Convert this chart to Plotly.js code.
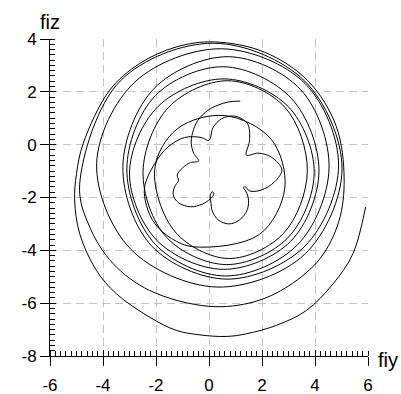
<!DOCTYPE html>
<html>
<head>
<meta charset="utf-8">
<script src="https://cdn.plot.ly/plotly-3.0.1.min.js"></script>
<style>html,body{margin:0;padding:0;background:#fff;}#chart{width:401px;height:394px;}</style>
</head>
<body>
<div id="chart"></div>
<script>
// inner five-lobed part (start of the trajectory)
var flowerFiy = [1.18,0.75,0.35,-0.04,-0.42,-0.62,-0.67,-0.57,-0.39,
  -0.7,-1.0,-1.2,-1.15,-1.3,-1.35,-1.15,-0.7,-0.25,0.05,
  0.18,0.13,0.05,0.07,
  0.12,0.35,0.75,1.15,1.45,1.48,1.38,1.3,1.38,1.53,
  1.97,2.47,2.75,2.35,1.85,1.41,
  1.53,1.45,0.97,0.47,0.15,0.0];
var flowerFiz = [1.65,1.62,1.5,1.3,0.92,0.45,0.04,-0.34,-0.62,
  -0.68,-0.88,-1.15,-1.35,-1.6,-1.9,-2.2,-2.35,-2.25,-2.05,
  -1.87,-1.78,-1.9,-2.15,
  -2.5,-2.85,-3.0,-2.85,-2.45,-2.0,-1.75,-1.62,-1.6,-1.75,
  -1.72,-1.41,-0.95,-0.47,-0.32,-0.4,
  0.16,0.8,1.08,0.98,0.64,0.16];
// first wide loop
var loop1Fiy = [-0.29,-0.92,-1.55,-2.05,-2.43,-2.36,-2.05,-1.42,-0.54,1.9,2.86,2.35,0.6,-1.2];
var loop1Fiz = [0.27,0.27,-0.09,-0.72,-1.6,-2.3,-2.98,-3.55,-3.87,-3.4,-1.65,0.2,1.1,0.6];
// middle loops (2 to 7)
var midFiy = [-2.05,-1.27,0.74,2.81,3.71,2.86,0.71,-1.52,
  -2.49,-1.61,0.65,2.97,3.97,2.99,0.57,-1.92,
  -3.0,-1.97,0.54,3.08,4.15,3.11,0.56,-2.02,
  -3.1,-2.03,0.62,3.34,4.53,3.46,0.73,-2.06,
  -3.25,-2.17,0.68,3.62,4.89,3.62,0.47,-2.79,
  -4.24,-2.96,0.3,3.61,5.02,3.61,0.17,-3.35];
var midFiz = [-0.94,-3.31,-4.31,-3.36,-0.99,1.42,2.42,1.42,
  -1.03,-3.5,-4.54,-3.53,-1.05,1.44,2.49,1.45,
  -1.07,-3.62,-4.72,-3.66,-1.0,1.75,2.95,1.86,
  -0.92,-3.77,-4.97,-3.79,-0.88,2.08,3.33,2.14,
  -0.83,-3.83,-5.09,-3.84,-0.78,2.32,3.63,2.38,
  -0.72,-3.95,-5.39,-4.15,-0.92,2.41,3.84,2.41];
// last two loops, ending at the right
var outerFiy = [-4.88,-4.5,-3.62,-2.24,0.0,1.7,3.0,4.2,4.9,5.1,4.8,3.75,2.1,0.2,-1.23,-2.62,-3.75,-4.75,
  -5.0,-5.07,-4.88,-4.25,-3.5,-2.24,-1.23,-0.35,0.65,1.41,2.54,3.67,4.68,5.43,5.91];
var outerFiz = [-1.5,-3.12,-4.5,-5.52,-6.12,-5.95,-5.35,-4.3,-2.9,-1.3,0.7,2.4,3.5,3.89,3.7,3.07,2.06,0.04,
  -1.1,-2.1,-3.37,-4.76,-5.64,-6.53,-7.03,-7.2,-7.26,-7.16,-6.84,-6.28,-5.27,-4.13,-2.36];
var xTicks = [-6,-4,-2,0,2,4,6];
var yTicks = [-8,-6,-4,-2,0,2,4];

var fiy = flowerFiy.concat(loop1Fiy, midFiy, outerFiy);
var fiz = flowerFiz.concat(loop1Fiz, midFiz, outerFiz);

var font = 'Liberation Sans, Arial, sans-serif';
var data = [
  {x: fiy, y: fiz, type: 'scatter', mode: 'lines', line: {color: '#000', width: 1, shape: 'spline', smoothing: 1}, hoverinfo: 'skip'},
  {x: [0], y: [0], xaxis: 'x2', yaxis: 'y2', mode: 'markers', marker: {opacity: 0}, hoverinfo: 'skip'}
];
function baseAxis(rng, ticks) {
  return {
    range: rng, tickvals: ticks, ticktext: ticks.map(String),
    showgrid: true, gridcolor: '#c4c4c4', griddash: '8px,5px', gridwidth: 1,
    zeroline: false, showline: true, linecolor: '#000', linewidth: 1,
    ticks: 'outside', ticklen: 9, tickcolor: '#000', tickwidth: 1,
    tickfont: {family: font, size: 17, color: '#000'},
    minor: {dtick: 0.2, ticks: 'inside', ticklen: 5, tickcolor: '#000', tickwidth: 1, showgrid: false},
    fixedrange: true
  };
}
var xa = baseAxis([-6, 6], xTicks);
xa.ticklabelstandoff = 5;
var ya = baseAxis([-8, 4], yTicks);
var layout = {
  width: 401, height: 394,
  margin: {l: 50, r: 33, t: 39, b: 38},
  paper_bgcolor: '#fff', plot_bgcolor: '#fff',
  showlegend: false,
  xaxis: xa, yaxis: ya,
  xaxis2: {overlaying: 'x', range: [-6, 6], tickvals: xTicks, ticks: 'inside', ticklen: 6, tickcolor: '#000', showticklabels: false, showgrid: false, zeroline: false, showline: false, side: 'bottom'},
  yaxis2: {overlaying: 'y', range: [-8, 4], tickvals: yTicks, ticks: 'inside', ticklen: 6, tickcolor: '#000', showticklabels: false, showgrid: false, zeroline: false, showline: false, side: 'left'},
  annotations: [
    {text: 'fiz', xref: 'paper', yref: 'paper', x: 0, y: 1, xanchor: 'center', yanchor: 'bottom', yshift: 4, showarrow: false, font: {family: font, size: 20, color: '#000'}},
    {text: 'fiy', xref: 'paper', yref: 'paper', x: 1, y: 0, xanchor: 'left', yanchor: 'middle', xshift: 8, yshift: -4, showarrow: false, font: {family: font, size: 20, color: '#000'}}
  ]
};
Plotly.newPlot('chart', data, layout, {displayModeBar: false, staticPlot: true});
</script>
</body>
</html>
